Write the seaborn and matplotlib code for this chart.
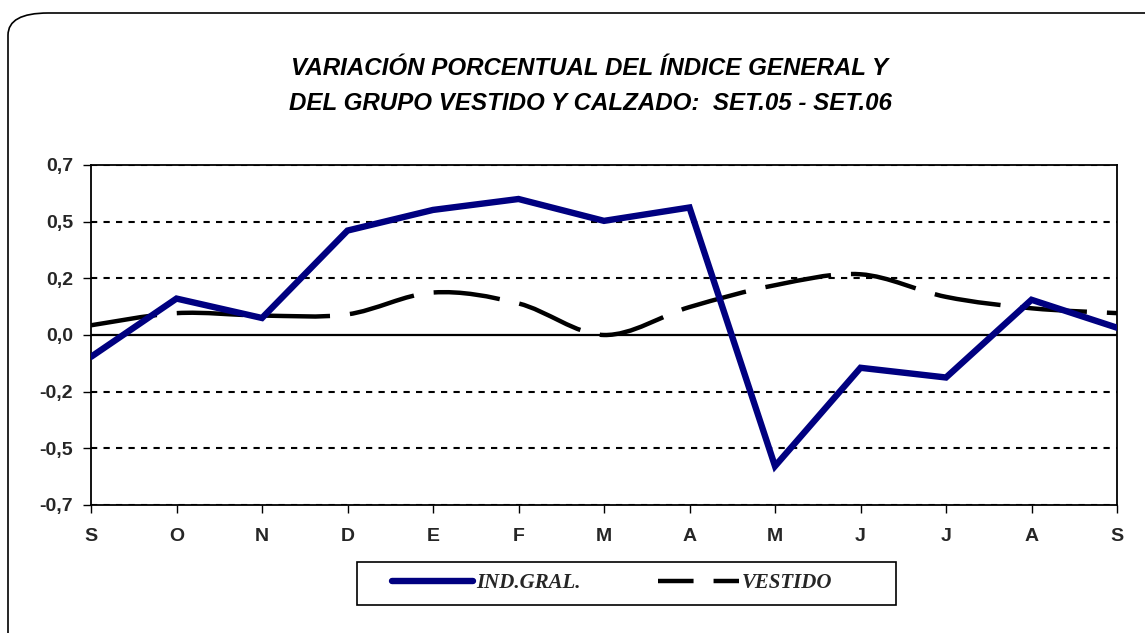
import numpy as np
import matplotlib
matplotlib.use("Agg")
import matplotlib.pyplot as plt
import seaborn as sns
import pandas as pd
from matplotlib.path import Path
from matplotlib.patches import PathPatch, FancyBboxPatch, Rectangle
from matplotlib.lines import Line2D

# Data
months = ["S", "O", "N", "D", "E", "F", "M", "A", "M", "J", "J", "A", "S"]
ind_gral = [-0.09, 0.15, 0.07, 0.43, 0.515, 0.56, 0.47, 0.525, -0.54, -0.135, -0.175, 0.145, 0.03]
vestido = [0.04, 0.09, 0.08, 0.085, 0.175, 0.13, 0.0, 0.115, 0.205, 0.25, 0.157, 0.11, 0.09]
y_ticks = [0.7, 0.7 * 2 / 3, 0.7 / 3, 0.0, -0.7 / 3, -0.7 * 2 / 3, -0.7]
y_labels = ["0,7", "0,5", "0,2", "0,0", "-0,2", "-0,5", "-0,7"]
title = "VARIACIÓN PORCENTUAL DEL ÍNDICE GENERAL Y\nDEL GRUPO VESTIDO Y CALZADO:  SET.05 - SET.06"

sns.set_theme(style="white")
plt.rcParams['font.family'] = ['Liberation Sans', 'DejaVu Sans']

df = pd.DataFrame({"pos": np.arange(len(months)), "ind": ind_gral, "vest": vestido})

fig = plt.figure(figsize=(11.45, 6.33), dpi=100)
fig.patch.set_facecolor("white")

# outer rounded frame (runs past right and bottom edges)
frame = FancyBboxPatch((8 / 1145, 1 - 655 / 633), 1.2, 642 / 633,
                       boxstyle="round,pad=0,rounding_size=0.035",
                       transform=fig.transFigure, fill=False, edgecolor="black",
                       linewidth=1.2, clip_on=False)
fig.patches.append(frame)

ax = fig.add_axes([91 / 1145, 1 - 505 / 633, 1026 / 1145, 340 / 633])

# dotted gridlines
for v in y_ticks:
    if abs(v) > 1e-9:
        ax.axhline(v, color="black", lw=1.5, ls=(0, (3, 3)), zorder=1)
ax.axhline(0, color="black", lw=1.6, zorder=1)

# IND.GRAL. line
sns.lineplot(data=df, x="pos", y="ind", ax=ax, color="#000080", lw=4.6,
             solid_joinstyle="miter", zorder=3, legend=False)

# VESTIDO: smoothed curve (Bezier through the data points)
x = df["pos"].to_numpy(dtype=float)
y = df["vest"].to_numpy(dtype=float)
verts = [(x[0], y[0])]
codes = [Path.MOVETO]
n = len(x)
for i in range(n - 1):
    p0 = (x[max(i - 1, 0)], y[max(i - 1, 0)])
    p1 = (x[i], y[i])
    p2 = (x[i + 1], y[i + 1])
    p3 = (x[min(i + 2, n - 1)], y[min(i + 2, n - 1)])
    c1 = (p1[0] + (p2[0] - p0[0]) / 6, p1[1] + (p2[1] - p0[1]) / 6)
    c2 = (p2[0] - (p3[0] - p1[0]) / 6, p2[1] - (p3[1] - p1[1]) / 6)
    verts += [c1, c2, p2]
    codes += [Path.CURVE4] * 3
ax.add_patch(PathPatch(Path(verts, codes), fill=False, edgecolor="black",
                       lw=3.2, linestyle=(0, (15, 4.5)), capstyle="butt", zorder=2))

ax.set_xlim(0, 12)
ax.set_ylim(-0.7, 0.7)
ax.set_xticks(df["pos"])
ax.set_xticklabels(months)
ax.set_yticks(y_ticks)
ax.set_yticklabels(y_labels)
ax.set_xlabel("")
ax.set_ylabel("")
for s in ax.spines.values():
    s.set_visible(True)
    s.set_color("black")
    s.set_linewidth(1.3)
ax.tick_params(axis="x", direction="out", length=5.8, width=1, color="black",
               pad=11, labelsize=14, bottom=True)
ax.tick_params(axis="y", direction="out", length=5.8, width=1, color="black",
               pad=7, labelsize=14, left=True)
for lbl in ax.get_xticklabels() + ax.get_yticklabels():
    lbl.set_fontweight("bold")

fig.text(590 / 1145, 1 - 86 / 633, title, ha="center", va="center",
         fontsize=17.4, style="italic", weight="bold", linespacing=1.65,
         color="black")

# legend box drawn separately, entries placed inside it
fig.patches.append(Rectangle((357 / 1145, 1 - 605 / 633), 539 / 1145, 43 / 633,
                             transform=fig.transFigure, fill=False,
                             edgecolor="black", linewidth=1.2))
handles = [Line2D([], [], color="#000080", lw=4.6, solid_capstyle="round"),
           Line2D([], [], color="black", lw=3.2, ls=(0, (8, 4.5)))]
leg = fig.legend(handles, ["IND.GRAL.", "VESTIDO"], loc="center",
                 bbox_to_anchor=(612 / 1145, 1 - 583 / 633), ncol=2,
                 frameon=False, borderpad=0,
                 handlelength=3.9, handletextpad=0.15, columnspacing=3.7,
                 prop={"family": "Liberation Serif", "style": "italic",
                       "weight": "bold", "size": 15})

fig.savefig("out.png", dpi=100)
